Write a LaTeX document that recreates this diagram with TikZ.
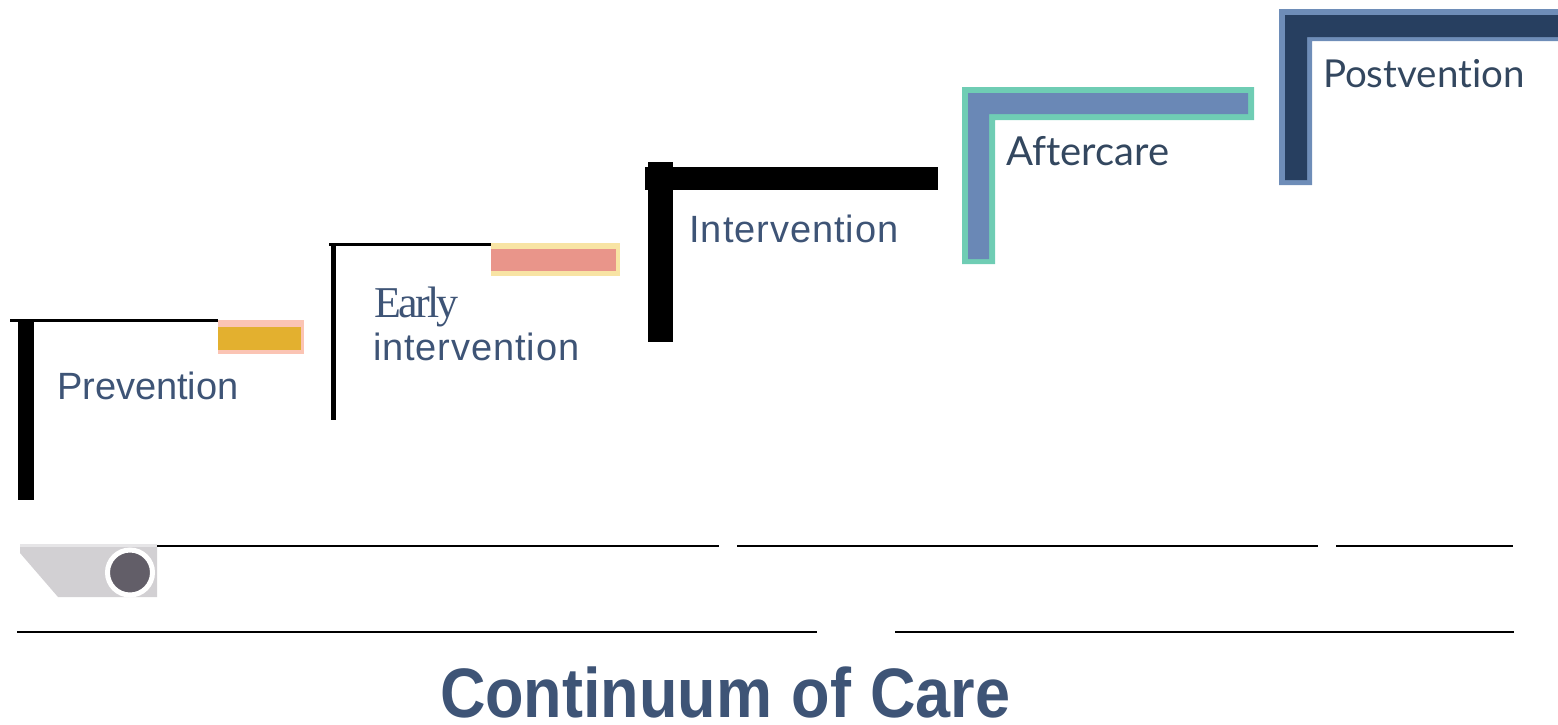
\documentclass[tikz,border=0pt]{standalone}
\usepackage{fontspec}
\setmainfont{Liberation Sans}
\newfontfamily\serifface{Liberation Serif}
\newfontfamily\humanface[Ligatures=NoCommon]{Lato}
\newfontfamily\titleface[FakeStretch=0.9,WordSpace=1.1]{Liberation Sans Bold}
\definecolor{slateblue}{HTML}{3E5476}
\definecolor{inkblue}{HTML}{33475F}
\definecolor{amberfill}{HTML}{E3B02F}
\definecolor{pinkedge}{HTML}{FBC4B4}
\definecolor{salmonfill}{HTML}{E9958A}
\definecolor{paleedge}{HTML}{F8E4A4}
\definecolor{tealedge}{HTML}{6FCDB4}
\definecolor{midblue}{HTML}{6A88B6}
\definecolor{navyfill}{HTML}{273F60}
\definecolor{navyedge}{HTML}{6E8DB8}
\definecolor{icongray}{HTML}{D2D0D3}
\definecolor{iconband}{HTML}{E6E5E7}
\definecolor{icondisc}{HTML}{625E68}
\tikzset{
  x=1pt,y=-1pt,
  rule/.style={line width=2pt,black},
  lab/.style={anchor=base west,inner sep=0pt,outer sep=0pt,text=slateblue},
  sanslab/.style={lab,font=\fontsize{38}{38}\selectfont},
  humanlab/.style={lab,text=inkblue},
}
\begin{document}
\begin{tikzpicture}
\useasboundingbox (0,0) rectangle (1558,724);
% Prevention step
\fill[black] (18,321) rectangle (34,500);
\draw[line width=2.5pt,black] (10,320.7) -- (218,320.7);
\fill[pinkedge] (218,320) rectangle (304,354);
\fill[amberfill] (218,327) rectangle (301,350);
\node[sanslab] (prevention) at (57,399) {Prevention};
% Early intervention step
\fill[black] (331,243) rectangle (336,420);
\draw[line width=3pt,black] (329,244.2) -- (492,244.2);
\fill[paleedge] (491,243) rectangle (620,276);
\fill[salmonfill] (491,249) rectangle (616,271);
\node[lab,font=\serifface\fontsize{44}{44}\selectfont\addfontfeature{LetterSpace=-6}] (early) at (374,317) {Early};
\node[sanslab,font=\fontsize{38}{38}\selectfont\addfontfeature{LetterSpace=2.4}] (earlytwo) at (373,360) {intervention};
% Intervention step
\fill[black] (648,162) rectangle (673,342);
\fill[black] (645,167) rectangle (938,190);
\node[sanslab,font=\fontsize{38}{38}\selectfont\addfontfeature{LetterSpace=2.5}] (intervention) at (689.5,242) {Intervention};
% Aftercare step
\fill[tealedge] (962,87) -- (1254,87) -- (1254,120) -- (995,120) -- (995,264) -- (962,264) -- cycle;
\fill[midblue] (968,93) -- (1248,93) -- (1248,114) -- (989,114) -- (989,259) -- (968,259) -- cycle;
\node[humanlab,font=\humanface\fontsize{40}{40}\selectfont] (aftercare) at (1006,165) {Aftercare};
% Postvention step
\fill[navyedge] (1279,9) -- (1558,9) -- (1558,41) -- (1312,41) -- (1312,185) -- (1279,185) -- cycle;
\fill[navyfill] (1285,15) -- (1558,15) -- (1558,37) -- (1307,37) -- (1307,180) -- (1285,180) -- cycle;
\node[humanlab,font=\humanface\fontsize{38.5}{38.5}\selectfont] (postvention) at (1323,87) {Postvention};
% Icon
\fill[icongray] (20,547) -- (157,547) -- (157,597) -- (58,597) -- (20,553) -- cycle;
\fill[iconband] (20,544) rectangle (157,547);
\node[circle,fill=icondisc,draw=white,line width=5pt,minimum size=45pt,inner sep=0pt] (disc) at (130,572.5) {};
% Rules
\coordinate (a1) at (157,546); \coordinate (a2) at (719,546);
\coordinate (b1) at (737,546); \coordinate (b2) at (1318,546);
\coordinate (c1) at (1336,546); \coordinate (c2) at (1513,546);
\coordinate (d1) at (17,632); \coordinate (d2) at (817,632);
\coordinate (e1) at (895,632); \coordinate (e2) at (1514,632);
\draw[rule] (a1) -- (a2);
\draw[rule] (b1) -- (b2);
\draw[rule] (c1) -- (c2);
\draw[rule] (d1) -- (d2);
\draw[rule] (e1) -- (e2);
% Title
\node[lab,font=\titleface\fontsize{70}{70}\selectfont] (title) at (440,717) {Continuum of Care};
\end{tikzpicture}
\end{document}
